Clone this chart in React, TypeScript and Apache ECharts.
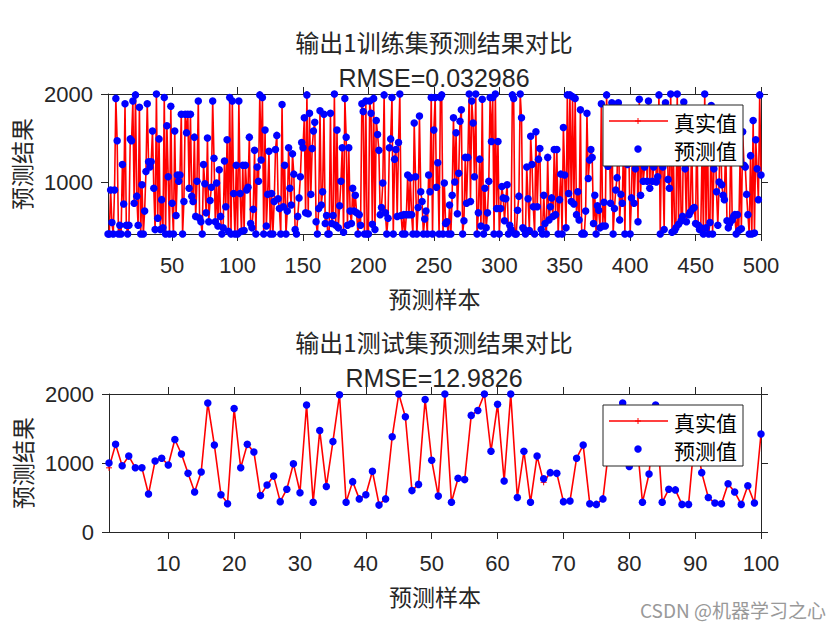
import React, { useEffect, useRef } from "react";
import * as echarts from "echarts";

// ---- Data ----
const trainTrue = [
  410,410,910,540,410,910,1950,1470,410,510,410,1200,750,1890,510,410,510,1490,1470,1920,
  760,1990,840,510,1850,410,970,410,670,1120,1890,1230,1170,1230,1580,930,460,2000,590,1490,
  460,800,480,1960,410,1640,1060,410,1860,760,410,1580,620,1080,1010,1080,1770,410,780,1770,
  1560,1770,930,1770,840,780,1510,610,1010,1920,590,550,410,1200,980,650,1500,550,790,940,
  1920,1270,550,990,500,1140,610,410,480,1240,720,1480,440,1960,410,1920,870,410,1190,410,
  1920,870,440,1190,450,1190,910,940,1510,530,480,690,1360,410,1170,1010,1990,1250,1960,410,
  1590,500,860,1350,410,870,410,780,1370,1530,810,700,410,1880,720,1190,410,670,1390,930,
  740,1320,1090,460,410,610,820,1060,1450,1390,1730,650,1990,640,1780,860,1380,1580,1680,550,
  410,700,1810,740,890,1770,530,620,410,410,1780,530,620,2000,510,1590,480,730,1010,1390,
  430,1950,1510,510,1390,670,530,930,670,850,650,410,630,510,1890,1800,410,1920,410,410,
  1920,1780,520,1950,460,1700,1540,1360,630,710,990,1990,650,410,590,1390,1490,1960,410,1260,
  1370,610,1450,2000,620,410,630,410,630,1080,630,1050,630,410,1670,1060,410,710,1750,890,
  780,410,580,670,410,1080,890,1960,410,1590,1960,940,1220,410,1960,1990,410,990,530,550,
  410,740,410,850,1730,1000,1560,640,1100,1690,1820,410,560,1280,760,1280,2000,780,1920,1670,
  1060,2000,410,650,1260,500,1940,410,930,480,650,1010,1960,1460,1960,410,2000,700,1460,410,
  700,950,820,560,810,970,410,510,460,1990,1950,410,410,680,840,2000,1730,480,460,410,
  1170,810,450,1520,1200,720,410,1570,720,1260,1380,460,410,850,530,410,1280,570,720,820,
  610,1370,630,1370,410,800,1090,410,1620,1080,480,1990,870,1990,780,1970,750,1950,630,890,
  570,1820,410,420,410,670,1780,1040,1250,1370,1280,530,850,410,730,680,480,1890,500,770,
  500,1990,1180,1600,760,1900,410,700,910,1050,1900,570,860,760,1500,410,1650,1200,1400,410,
  820,1600,760,1150,1750,550,1940,850,1400,1010,1170,1650,1010,1920,930,1550,1010,1170,1800,1000,
  1060,1990,410,1450,1170,460,1900,1700,1030,930,2000,430,1350,450,480,2000,520,1600,560,610,
  1910,1150,550,1750,630,660,1500,700,710,530,1650,510,460,480,1400,410,2000,480,1800,410,
  540,1870,410,1150,1550,890,510,1000,1700,970,850,800,1450,560,480,530,1600,570,610,630,
  410,630,450,1250,470,1570,1190,1170,860,630,410,1300,410,1700,420,1480,1150,800,1990,1080,
];
// training RMSE is 0.033: predictions coincide with the true values
const trainPred = trainTrue.slice();

const testTrue = [
  930,1270,960,1100,930,930,550,1030,1070,970,
  1340,1130,850,580,870,1870,1260,540,420,1790,
  930,1270,1160,530,680,810,440,620,990,580,
  1840,430,1470,660,1310,1990,430,730,480,540,
  880,400,480,1380,2000,1670,600,690,1920,1040,
  520,2000,430,780,750,1690,1760,2000,1170,1850,
  740,2000,500,1170,430,1100,720,860,850,440,
  450,1070,1260,410,400,480,1300,1650,1870,950,
  1500,430,840,1840,430,620,610,400,400,1450,
  860,500,420,410,700,580,400,670,420,1420,
];
const testPred = [
  1000,1270,960,1100,930,930,550,1030,1070,970,
  1340,1130,850,580,870,1870,1260,540,410,1790,
  930,1270,1160,530,680,810,440,620,990,570,
  1840,430,1470,660,1310,1990,430,730,480,540,
  880,390,480,1380,2000,1670,600,690,1920,1040,
  520,2000,430,780,760,1690,1760,2000,1170,1850,
  740,2000,500,1170,430,1100,770,860,850,440,
  450,1070,1260,410,400,480,1300,1650,1870,950,
  1500,430,840,1840,430,620,610,400,400,1450,
  860,500,420,410,700,580,400,670,420,1420,
];

const trainXTicks = [50, 100, 150, 200, 250, 300, 350, 400, 450, 500];
const trainYTicks = [1000, 2000];
const testXTicks = [10, 20, 30, 40, 50, 60, 70, 80, 90, 100];
const testYTicks = [0, 1000, 2000];

const trainTitle = "输出1训练集预测结果对比";
const trainRmse = "RMSE=0.032986";
const testTitle = "输出1测试集预测结果对比";
const testRmse = "RMSE=12.9826";
const xName = "预测样本";
const yName = "预测结果";
const legendNames = ["真实值", "预测值"];
const watermark = "CSDN @机器学习之心";

const AX = "#262626";
const CJK = '"Noto Sans CJK SC", sans-serif';
const LAT = '"Liberation Sans", Arial, sans-serif';
const PLUS = "path://M5,0L5,10M0,5L10,5";
const plain = (v: number) => String(v);

function toPairs(arr: number[]) {
  return arr.map((v, i) => [i + 1, v]);
}

function xAxes(grid: number, min: number, max: number, ticks: number[]) {
  const line = { show: true, onZero: false, lineStyle: { color: AX, width: 1 } };
  const tick = { show: true, inside: false, length: 7, customValues: ticks, lineStyle: { color: AX, width: 1 } };
  return [
    {
      gridIndex: grid, type: "value", min, max, position: "bottom",
      axisLine: line, axisTick: tick,
      axisLabel: { customValues: ticks, formatter: plain, margin: 20, fontFamily: LAT, fontSize: 22, color: AX },
      splitLine: { show: false },
      name: xName, nameLocation: "middle", nameGap: 52,
      nameTextStyle: { fontFamily: CJK, fontSize: 23, color: AX },
    },
    {
      gridIndex: grid, type: "value", min, max, position: "top",
      axisLine: line, axisTick: tick, axisLabel: { show: false }, splitLine: { show: false },
    },
  ];
}

function yAxes(grid: number, min: number, max: number, ticks: number[]) {
  const line = { show: true, onZero: false, lineStyle: { color: AX, width: 1 } };
  const tick = { show: true, inside: false, length: 7, customValues: ticks, lineStyle: { color: AX, width: 1 } };
  return [
    {
      gridIndex: grid, type: "value", min, max, position: "left",
      axisLine: line, axisTick: tick,
      axisLabel: { customValues: ticks, formatter: plain, margin: 15, fontFamily: LAT, fontSize: 22, color: AX },
      splitLine: { show: false },
      name: yName, nameLocation: "middle", nameGap: 76,
      nameTextStyle: { fontFamily: CJK, fontSize: 23, color: AX },
    },
    {
      gridIndex: grid, type: "value", min, max, position: "right",
      axisLine: line, axisTick: tick, axisLabel: { show: false }, splitLine: { show: false },
    },
  ];
}

function seriesFor(axisX: number, axisY: number, truth: number[], pred: number[]) {
  return [
    {
      type: "line", name: legendNames[0], xAxisIndex: axisX, yAxisIndex: axisY,
      data: toPairs(truth), symbol: PLUS, symbolSize: 6, showSymbol: true, showAllSymbol: true,
      lineStyle: { color: "#ff0000", width: 1.6 },
      itemStyle: { color: "#ff0000", borderColor: "#ff0000", borderWidth: 1 },
      z: 2, silent: true,
    },
    {
      type: "scatter", name: legendNames[1], xAxisIndex: axisX, yAxisIndex: axisY,
      data: toPairs(pred), symbol: "circle", symbolSize: 7.5,
      itemStyle: { color: "#0000ff", opacity: 1 }, z: 3, silent: true,
    },
  ];
}

function txt(text: string, x: number, y: number, size: number, family: string, align = "center", fill = AX) {
  return {
    type: "text", x, y, z: 100,
    style: {
      text, fontSize: size, fontFamily: family, fill,
      align, textAlign: align, verticalAlign: "middle", textVerticalAlign: "middle",
    },
  };
}

function legendBox(top: number) {
  const ly = top + 16;
  const dy = top + 44;
  return [
    { type: "rect", z: 100, shape: { x: 603, y: top, width: 140, height: 61 }, style: { fill: "#ffffff", stroke: AX, lineWidth: 1 } },
    { type: "line", z: 101, shape: { x1: 609, y1: ly, x2: 668, y2: ly }, style: { stroke: "#ff0000", lineWidth: 1.6 } },
    { type: "line", z: 101, shape: { x1: 638, y1: ly - 3, x2: 638, y2: ly + 3 }, style: { stroke: "#ff0000", lineWidth: 1 } },
    { type: "line", z: 101, shape: { x1: 635, y1: ly, x2: 641, y2: ly }, style: { stroke: "#ff0000", lineWidth: 1 } },
    { type: "circle", z: 101, shape: { cx: 638, cy: dy, r: 3.75 }, style: { fill: "#0000ff" } },
    { ...txt(legendNames[0], 674, ly + 1, 21, CJK, "left", "#000000"), z: 101 },
    { ...txt(legendNames[1], 674, dy + 1, 21, CJK, "left", "#000000"), z: 101 },
  ];
}

export default function App() {
  const ref = useRef<HTMLDivElement>(null);
  useEffect(() => {
    if (!ref.current) return;
    const chart = echarts.init(ref.current, undefined, { renderer: "svg" });
    const option = {
      animation: false,
      backgroundColor: "#ffffff",
      grid: [
        { left: 108, top: 94, width: 653, height: 140 },
        { left: 109, top: 394, width: 652, height: 138 },
      ],
      xAxis: [...xAxes(0, 1, 500, trainXTicks), ...xAxes(1, 1, 100, testXTicks)],
      yAxis: [...yAxes(0, 410, 2000, trainYTicks), ...yAxes(1, 0, 2000, testYTicks)],
      series: [...seriesFor(0, 0, trainTrue, trainPred), ...seriesFor(2, 2, testTrue, testPred)],
      graphic: [
        txt(trainTitle, 434, 41, 24, CJK),
        txt(trainRmse, 434, 78, 25, LAT),
        txt(testTitle, 434, 341, 24, CJK),
        txt(testRmse, 434, 378, 25, LAT),
        ...legendBox(105),
        ...legendBox(405),
        txt(watermark, 826, 609, 19, CJK, "right", "#999999"),
      ],
    };
    chart.setOption(option as any);
    return () => chart.dispose();
  }, []);
  return (
    <div
      ref={ref}
      style={{ position: "absolute", left: 0, top: 0, width: 840, height: 630, background: "#fff" }}
    />
  );
}
